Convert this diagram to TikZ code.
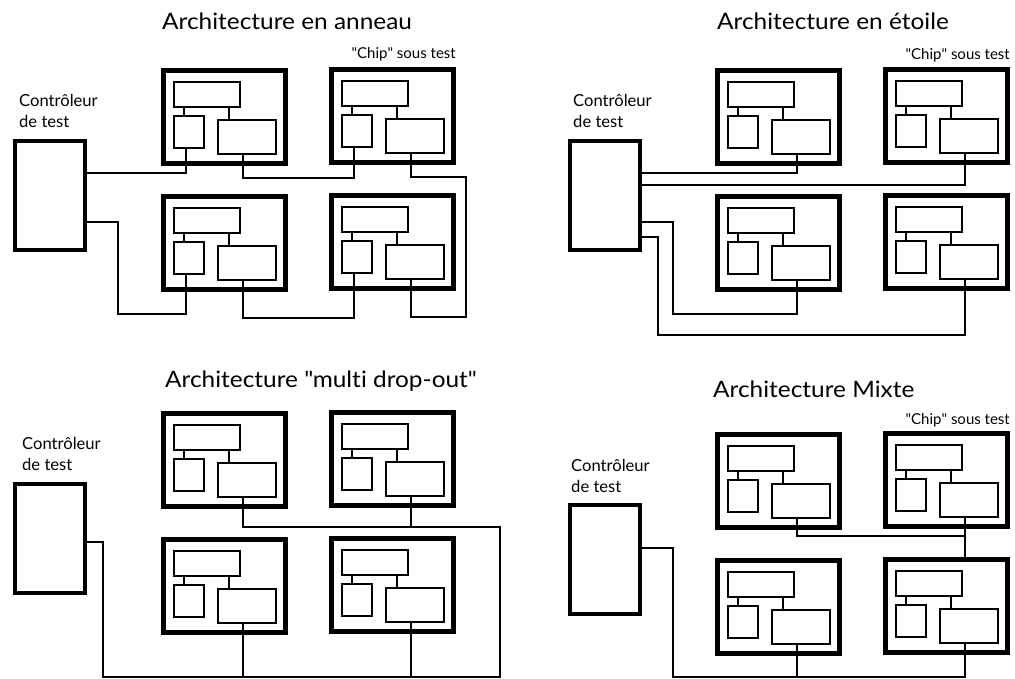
\documentclass[tikz,border=0pt]{standalone}
\usepackage{fontspec}
\setmainfont{Lato}[Ligatures=NoCommon]
\newfontfamily\titlefont{Lato}[Ligatures=NoCommon, FakeStretch=1.08]
\usetikzlibrary{calc}
\tikzset{
 chipbox/.style={draw, line width=5pt, minimum width=122pt, minimum height=93pt, inner sep=0pt, outer sep=0pt, anchor=north west},
 ctrlbox/.style={draw, line width=4.5pt, minimum width=70pt, minimum height=109pt, inner sep=0pt, outer sep=0pt, anchor=north west},
 inbox/.style={draw, line width=2pt, inner sep=0pt, outer sep=0pt, anchor=north west},
 wire/.style={line width=2pt},
 title/.style={font=\titlefont\fontsize{22.6}{28}\selectfont, anchor=base west, inner sep=0pt},
 lbl/.style={font=\fontsize{16.6}{21}\selectfont, anchor=base west, inner sep=0pt, align=left},
 chiplbl/.style={font=\fontsize{15}{18}\selectfont, anchor=base east, inner sep=0pt},
}
\newcommand\chipat[3]{%
 \node[chipbox] (#1) at (#2,#3) {};
 \node[inbox, minimum width=66pt, minimum height=25pt] (#1t) at ($(#1.north west)+(10.5,11.5)$) {};
 \node[inbox, minimum width=30pt, minimum height=32pt] (#1s) at ($(#1.north west)+(10.5,45.5)$) {};
 \node[inbox, minimum width=58pt, minimum height=34pt] (#1r) at ($(#1.north west)+(54.5,49.5)$) {};
 \draw[wire] ($(#1t.south west)+(10,0)$) -- ($(#1s.north west)+(10,0)$);
 \draw[wire] ($(#1t.south west)+(55,0)$) -- ($(#1r.north west)+(11,0)$);
 \coordinate (#1sp) at ($(#1s.south west)+(12,0)$);
 \coordinate (#1rp) at ($(#1r.south west)+(25,0)$);
}
\begin{document}
\begin{tikzpicture}[x=1pt, y=-1pt]
\useasboundingbox[fill=white] (0,0) rectangle (1015,679);

% ---------- Ring ----------
\node[title] (tA) at (162,30) {Architecture en anneau};
\node[chiplbl] (cA) at (456,59) {\textquotedbl Chip\textquotedbl{} sous test};
\node[lbl] (lA) at (19,128) {Contrôleur\\de test};
\node[ctrlbox] (ctrlA) at (15,141) {};
\chipat{A1}{163.5}{70.5}
\chipat{A2}{331.5}{70}
\chipat{A3}{163.5}{196.5}
\chipat{A4}{331.5}{195.5}
\coordinate (ringR) at (466,317);
\coordinate (ringL) at (118,314);
\draw[wire] ($(ctrlA.north east)+(0,32)$) -| (A1sp);
\draw[wire] (A1rp) -- ++(0,24) -| (A2sp);
\draw[wire] (A2rp) -- ++(0,23.5) -| (ringR) -| (A4rp);
\draw[wire] (A4sp) -- ++(0,45) -| (A3rp);
\draw[wire] ($(ctrlA.north east)+(0,81)$) -| (ringL) -| (A3sp);

% ---------- Star ----------
\node[title] (tB) at (717,30) {Architecture en étoile};
\node[chiplbl] (cB) at (1010,60) {\textquotedbl Chip\textquotedbl{} sous test};
\node[lbl] (lB) at (573,128) {Contrôleur\\de test};
\node[ctrlbox] (ctrlB) at (570,141) {};
\chipat{B1}{717.5}{70.5}
\chipat{B2}{885.5}{70}
\chipat{B3}{717.5}{196.5}
\chipat{B4}{885.5}{195.5}
\coordinate (starA) at (673,314);
\coordinate (starB) at (658,335);
\draw[wire] ($(ctrlB.north east)+(0,32)$) -| (B1rp);
\draw[wire] ($(ctrlB.north east)+(0,44)$) -| (B2rp);
\draw[wire] ($(ctrlB.north east)+(0,81)$) -| (starA) -| (B3rp);
\draw[wire] ($(ctrlB.north east)+(0,96)$) -| (starB) -| (B4rp);

% ---------- Multi drop ----------
\node[title] (tC) at (165,387) {Architecture \textquotedbl multi drop-out\textquotedbl};
\node[lbl] (lC) at (22,470) {Contrôleur\\de test};
\node[ctrlbox] (ctrlC) at (15,484) {};
\chipat{C1}{163.5}{413.5}
\chipat{C2}{331.5}{412.5}
\chipat{C3}{163.5}{539.5}
\chipat{C4}{331.5}{538.5}
\coordinate (busC1) at (103,677);
\coordinate (busC2) at (500,527);
\draw[wire] ($(ctrlC.north east)+(0,58)$) -| (busC1) -| (busC2) -| (C1rp);
\draw[wire] (C2rp) -- (C2rp |- busC2);
\draw[wire] (C3rp) -- (C3rp |- busC1);
\draw[wire] (C4rp) -- (C4rp |- busC1);

% ---------- Mixte ----------
\node[title] (tD) at (713,397) {Architecture Mixte};
\node[chiplbl] (cD) at (1010,424) {\textquotedbl Chip\textquotedbl{} sous test};
\node[lbl] (lD) at (571,492) {Contrôleur\\de test};
\node[ctrlbox] (ctrlD) at (570,505) {};
\chipat{D1}{717.5}{434.5}
\chipat{D2}{885.5}{433.5}
\chipat{D3}{717.5}{560.5}
\chipat{D4}{885.5}{559.5}
\coordinate (busD) at (673,677);
\draw[wire] (D1rp) -- ++(0,18) -| (D2rp);
\draw[wire] (D2rp) -- (D2rp |- D4.north);
\draw[wire] ($(ctrlD.north east)+(0,43)$) -| (busD) -| (D4rp);
\draw[wire] (D3rp) -- (D3rp |- busD);
\end{tikzpicture}
\end{document}
